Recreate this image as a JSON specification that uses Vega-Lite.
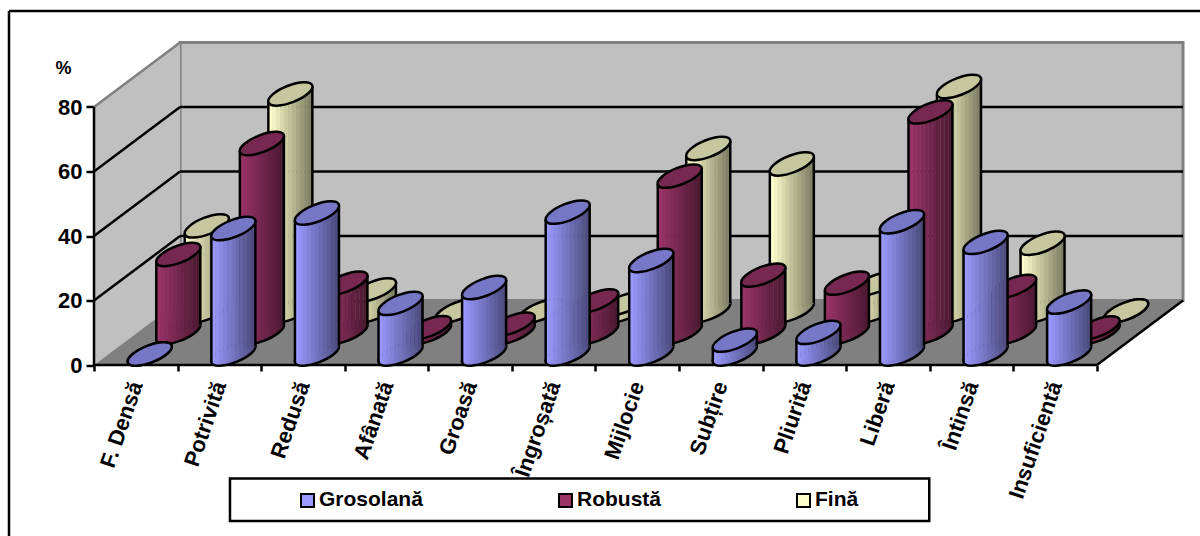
{
"$schema":"https://vega.github.io/schema/vega-lite/v6.json",
"width":1089,"height":322.5,
"autosize":{"type":"none"},
"padding":{"left":94,"top":42.5,"right":17,"bottom":171},
"background":"white",
"config":{"view":{"stroke":null},"font":"Liberation Sans"},
"datasets":{
"measures":[
{"trait":"F. Densă","pos":0.5,"series":"Grosolană","value":0},
{"trait":"Potrivită","pos":1.5,"series":"Grosolană","value":38.9},
{"trait":"Redusă","pos":2.5,"series":"Grosolană","value":43.7},
{"trait":"Afânată","pos":3.5,"series":"Grosolană","value":15.7},
{"trait":"Groasă","pos":4.5,"series":"Grosolană","value":20.6},
{"trait":"Îngroșată","pos":5.5,"series":"Grosolană","value":44},
{"trait":"Mijlocie","pos":6.5,"series":"Grosolană","value":29},
{"trait":"Subțire","pos":7.5,"series":"Grosolană","value":4.3},
{"trait":"Pliurită","pos":8.5,"series":"Grosolană","value":6.7},
{"trait":"Liberă","pos":9.5,"series":"Grosolană","value":41},
{"trait":"Întinsă","pos":10.5,"series":"Grosolană","value":34.6},
{"trait":"Insuficientă","pos":11.5,"series":"Grosolană","value":16.1},
{"trait":"F. Densă","pos":0.5,"series":"Robustă","value":24.2},
{"trait":"Potrivită","pos":1.5,"series":"Robustă","value":58.6},
{"trait":"Redusă","pos":2.5,"series":"Robustă","value":15.3},
{"trait":"Afânată","pos":3.5,"series":"Robustă","value":1.5},
{"trait":"Groasă","pos":4.5,"series":"Robustă","value":2.6},
{"trait":"Îngroșată","pos":5.5,"series":"Robustă","value":9.8},
{"trait":"Mijlocie","pos":6.5,"series":"Robustă","value":48.5},
{"trait":"Subțire","pos":7.5,"series":"Robustă","value":17.8},
{"trait":"Pliurită","pos":8.5,"series":"Robustă","value":15.3},
{"trait":"Liberă","pos":9.5,"series":"Robustă","value":68.4},
{"trait":"Întinsă","pos":10.5,"series":"Robustă","value":14.3},
{"trait":"Insuficientă","pos":11.5,"series":"Robustă","value":1.4},
{"trait":"F. Densă","pos":0.5,"series":"Fină","value":26.4},
{"trait":"Potrivită","pos":1.5,"series":"Fină","value":67.3},
{"trait":"Redusă","pos":2.5,"series":"Fină","value":6.5},
{"trait":"Afânată","pos":3.5,"series":"Fină","value":0},
{"trait":"Groasă","pos":4.5,"series":"Fină","value":0},
{"trait":"Îngroșată","pos":5.5,"series":"Fină","value":2.3},
{"trait":"Mijlocie","pos":6.5,"series":"Fină","value":50.4},
{"trait":"Subțire","pos":7.5,"series":"Fină","value":45.6},
{"trait":"Pliurită","pos":8.5,"series":"Fină","value":8.4},
{"trait":"Liberă","pos":9.5,"series":"Fină","value":69.6},
{"trait":"Întinsă","pos":10.5,"series":"Fină","value":21},
{"trait":"Insuficientă","pos":11.5,"series":"Fină","value":0}
],
"backWall":[{"pos":1.03,"pos2":13.03,"value":20,"value2":100}],
"leftWall":[{"pos":0,"value":0,"value2":80},{"pos":1.03,"value":20,"value2":100}],
"floor":[{"pos":0,"value":0,"value2":0},{"pos":1.03,"value":0,"value2":20},{"pos":12,"value":0,"value2":20},{"pos":13.03,"value":20,"value2":20}],
"greyEdges":[{"pos":0,"pos2":1.03,"value":80,"value2":100}],
"blackLines":[
{"pos":1.03,"pos2":13.03,"value":40,"value2":40},
{"pos":1.03,"pos2":13.03,"value":60,"value2":60},
{"pos":1.03,"pos2":13.03,"value":80,"value2":80},
{"pos":0,"pos2":1.03,"value":20,"value2":40},
{"pos":0,"pos2":1.03,"value":40,"value2":60},
{"pos":0,"pos2":1.03,"value":60,"value2":80},
{"pos":0,"pos2":0,"value":0,"value2":80},
{"pos":0,"pos2":12,"value":0,"value2":0},
{"pos":12,"pos2":13.03,"value":0,"value2":20}
],
"frame":[
{"pos":-1.017,"pos2":13.4,"value":109.8,"value2":109.8},
{"pos":-1.017,"pos2":-1.017,"value":109.8,"value2":-53}
],
"legendBox":[{"pos":1.627,"pos2":9.994,"value":-35.2,"value2":-48.4}]
},
"encoding":{
"x":{"field":"pos","type":"quantitative","scale":{"domain":[0,13.03],"nice":false,"zero":false},"axis":null},
"y":{"field":"value","type":"quantitative","scale":{"domain":[0,100],"nice":false,"zero":false},"axis":null}
},
"resolve":{"axis":{"x":"independent","y":"independent"}},
"layer":[
{"data":{"name":"backWall"},"mark":{"type":"rect","fill":"#c0c0c0","stroke":"#808080","strokeWidth":3},
 "encoding":{"x2":{"field":"pos2"},"y2":{"field":"value2"}}},
{"data":{"name":"leftWall"},"mark":{"type":"area","orient":"vertical","fill":"#c0c0c0","opacity":1},
 "encoding":{"y2":{"field":"value2"}}},
{"data":{"name":"floor"},"mark":{"type":"area","orient":"vertical","fill":"#808080","opacity":1},
 "encoding":{"y2":{"field":"value2"}}},
{"data":{"name":"greyEdges"},"mark":{"type":"rule","stroke":"#808080","strokeWidth":2.5},
 "encoding":{"x2":{"field":"pos2"},"y2":{"field":"value2"}}},
{"data":{"name":"blackLines"},"mark":{"type":"rule","stroke":"#000000","strokeWidth":2.5},
 "encoding":{
  "x":{"field":"pos","type":"quantitative","axis":{"orient":"bottom","values":[0,1,2,3,4,5,6,7,8,9,10,11,12],"labels":false,"domain":false,"grid":false,"title":null,"tickSize":6,"tickWidth":2.5,"tickColor":"#000000"}},
  "y":{"field":"value","type":"quantitative","axis":{"orient":"left","values":[0,20,40,60,80],"domain":false,"grid":false,"tickSize":8,"tickWidth":2.5,"tickColor":"#000000","labelFont":"Liberation Sans","labelFontWeight":"bold","labelFontSize":22,"labelColor":"#000000","labelPadding":4,"title":"%","titleAngle":0,"titleX":-31,"titleY":25.5,"titleAlign":"center","titleBaseline":"middle","titleFont":"Liberation Sans","titleFontWeight":"bold","titleFontSize":18,"titleColor":"#000000"}},
  "x2":{"field":"pos2"},"y2":{"field":"value2"}}},
{"data":{"name":"frame"},"mark":{"type":"rule","stroke":"#000000","strokeWidth":2.5},
 "encoding":{"x2":{"field":"pos2"},"y2":{"field":"value2"}}},
{"data":{"name":"measures"},"transform":[{"filter":"datum.series==='Fină'"}],"layer":[
 {"mark":{"type":"point","shape":"M-21.9,8.6A23.5,8.5,-21.5,1,1,21.9,-8.6A23.5,8.5,-21.5,1,1,-21.9,8.6Z","size":4,"filled":true,"opacity":1,"fill":{"gradient":"linear","x1":0,"y1":0,"x2":1,"y2":0,"stops":[{"offset":0,"color":"#ffffcc"},{"offset":1,"color":"#808066"}]},"stroke":"#000000","strokeWidth":2.5,"xOffset":71,"yOffset":-54},
  "encoding":{"y":{"datum":0}}},
 {"encoding":{"y2":{"datum":0}},"layer":[
  {"mark":{"type":"rule","strokeWidth":4.4,"stroke":"#ffffcc","xOffset":51,"yOffset":-47,"y2Offset":-47}},
  {"mark":{"type":"rule","strokeWidth":4.4,"stroke":"#f2f2c2","xOffset":55,"yOffset":-48.4,"y2Offset":-48.4}},
  {"mark":{"type":"rule","strokeWidth":4.4,"stroke":"#e6e6b8","xOffset":59,"yOffset":-49.8,"y2Offset":-49.8}},
  {"mark":{"type":"rule","strokeWidth":4.4,"stroke":"#d9d9ad","xOffset":63,"yOffset":-51.2,"y2Offset":-51.2}},
  {"mark":{"type":"rule","strokeWidth":4.4,"stroke":"#cccca3","xOffset":67,"yOffset":-52.6,"y2Offset":-52.6}},
  {"mark":{"type":"rule","strokeWidth":4.4,"stroke":"#bfbf99","xOffset":71,"yOffset":-54,"y2Offset":-54}},
  {"mark":{"type":"rule","strokeWidth":4.4,"stroke":"#b3b38f","xOffset":75,"yOffset":-55.4,"y2Offset":-55.4}},
  {"mark":{"type":"rule","strokeWidth":4.4,"stroke":"#a6a685","xOffset":79,"yOffset":-56.8,"y2Offset":-56.8}},
  {"mark":{"type":"rule","strokeWidth":4.4,"stroke":"#99997a","xOffset":83,"yOffset":-58.2,"y2Offset":-58.2}},
  {"mark":{"type":"rule","strokeWidth":4.4,"stroke":"#8c8c70","xOffset":87,"yOffset":-59.6,"y2Offset":-59.6}},
  {"mark":{"type":"rule","strokeWidth":4.4,"stroke":"#808066","xOffset":91,"yOffset":-61,"y2Offset":-61}},
  {"mark":{"type":"rule","strokeWidth":2.5,"stroke":"#000000","xOffset":49,"yOffset":-46.3,"y2Offset":-46.3}},
  {"mark":{"type":"rule","strokeWidth":2.5,"stroke":"#000000","xOffset":93,"yOffset":-61.7,"y2Offset":-61.7}}
 ]},
 {"mark":{"type":"point","shape":"M-21.9,8.6A23.5,8.5,-21.5,1,1,21.9,-8.6A23.5,8.5,-21.5,1,1,-21.9,8.6Z","size":4,"filled":true,"opacity":1,"fill":"#c7c79f","stroke":"#000000","strokeWidth":2.5,"xOffset":71,"yOffset":-54}}
]},
{"data":{"name":"measures"},"transform":[{"filter":"datum.series==='Robustă'"}],"layer":[
 {"mark":{"type":"point","shape":"M-21.9,8.6A23.5,8.5,-21.5,1,1,21.9,-8.6A23.5,8.5,-21.5,1,1,-21.9,8.6Z","size":4,"filled":true,"opacity":1,"fill":{"gradient":"linear","x1":0,"y1":0,"x2":1,"y2":0,"stops":[{"offset":0,"color":"#993366"},{"offset":1,"color":"#4d1a33"}]},"stroke":"#000000","strokeWidth":2.5,"xOffset":42.5,"yOffset":-32.5},
  "encoding":{"y":{"datum":0}}},
 {"encoding":{"y2":{"datum":0}},"layer":[
  {"mark":{"type":"rule","strokeWidth":4.4,"stroke":"#993366","xOffset":22.5,"yOffset":-25.5,"y2Offset":-25.5}},
  {"mark":{"type":"rule","strokeWidth":4.4,"stroke":"#913061","xOffset":26.5,"yOffset":-26.9,"y2Offset":-26.9}},
  {"mark":{"type":"rule","strokeWidth":4.4,"stroke":"#8a2e5c","xOffset":30.5,"yOffset":-28.3,"y2Offset":-28.3}},
  {"mark":{"type":"rule","strokeWidth":4.4,"stroke":"#822b57","xOffset":34.5,"yOffset":-29.7,"y2Offset":-29.7}},
  {"mark":{"type":"rule","strokeWidth":4.4,"stroke":"#7a2952","xOffset":38.5,"yOffset":-31.1,"y2Offset":-31.1}},
  {"mark":{"type":"rule","strokeWidth":4.4,"stroke":"#73264d","xOffset":42.5,"yOffset":-32.5,"y2Offset":-32.5}},
  {"mark":{"type":"rule","strokeWidth":4.4,"stroke":"#6b2447","xOffset":46.5,"yOffset":-33.9,"y2Offset":-33.9}},
  {"mark":{"type":"rule","strokeWidth":4.4,"stroke":"#632142","xOffset":50.5,"yOffset":-35.3,"y2Offset":-35.3}},
  {"mark":{"type":"rule","strokeWidth":4.4,"stroke":"#5c1f3d","xOffset":54.5,"yOffset":-36.7,"y2Offset":-36.7}},
  {"mark":{"type":"rule","strokeWidth":4.4,"stroke":"#541c38","xOffset":58.5,"yOffset":-38.1,"y2Offset":-38.1}},
  {"mark":{"type":"rule","strokeWidth":4.4,"stroke":"#4d1a33","xOffset":62.5,"yOffset":-39.5,"y2Offset":-39.5}},
  {"mark":{"type":"rule","strokeWidth":2.5,"stroke":"#000000","xOffset":20.5,"yOffset":-24.8,"y2Offset":-24.8}},
  {"mark":{"type":"rule","strokeWidth":2.5,"stroke":"#000000","xOffset":64.5,"yOffset":-40.2,"y2Offset":-40.2}}
 ]},
 {"mark":{"type":"point","shape":"M-21.9,8.6A23.5,8.5,-21.5,1,1,21.9,-8.6A23.5,8.5,-21.5,1,1,-21.9,8.6Z","size":4,"filled":true,"opacity":1,"fill":"#772850","stroke":"#000000","strokeWidth":2.5,"xOffset":42.5,"yOffset":-32.5}}
]},
{"data":{"name":"measures"},"transform":[{"filter":"datum.series==='Grosolană'"}],"layer":[
 {"mark":{"type":"point","shape":"M-21.9,8.6A23.5,8.5,-21.5,1,1,21.9,-8.6A23.5,8.5,-21.5,1,1,-21.9,8.6Z","size":4,"filled":true,"opacity":1,"fill":{"gradient":"linear","x1":0,"y1":0,"x2":1,"y2":0,"stops":[{"offset":0,"color":"#9999ff"},{"offset":1,"color":"#4d4d80"}]},"stroke":"#000000","strokeWidth":2.5,"xOffset":14,"yOffset":-11},
  "encoding":{"y":{"datum":0}}},
 {"encoding":{"y2":{"datum":0}},"layer":[
  {"mark":{"type":"rule","strokeWidth":4.4,"stroke":"#9999ff","xOffset":-6,"yOffset":-4,"y2Offset":-4}},
  {"mark":{"type":"rule","strokeWidth":4.4,"stroke":"#9191f2","xOffset":-2,"yOffset":-5.4,"y2Offset":-5.4}},
  {"mark":{"type":"rule","strokeWidth":4.4,"stroke":"#8a8ae6","xOffset":2,"yOffset":-6.8,"y2Offset":-6.8}},
  {"mark":{"type":"rule","strokeWidth":4.4,"stroke":"#8282d9","xOffset":6,"yOffset":-8.2,"y2Offset":-8.2}},
  {"mark":{"type":"rule","strokeWidth":4.4,"stroke":"#7a7acc","xOffset":10,"yOffset":-9.6,"y2Offset":-9.6}},
  {"mark":{"type":"rule","strokeWidth":4.4,"stroke":"#7373bf","xOffset":14,"yOffset":-11,"y2Offset":-11}},
  {"mark":{"type":"rule","strokeWidth":4.4,"stroke":"#6b6bb3","xOffset":18,"yOffset":-12.4,"y2Offset":-12.4}},
  {"mark":{"type":"rule","strokeWidth":4.4,"stroke":"#6363a6","xOffset":22,"yOffset":-13.8,"y2Offset":-13.8}},
  {"mark":{"type":"rule","strokeWidth":4.4,"stroke":"#5c5c99","xOffset":26,"yOffset":-15.2,"y2Offset":-15.2}},
  {"mark":{"type":"rule","strokeWidth":4.4,"stroke":"#54548c","xOffset":30,"yOffset":-16.6,"y2Offset":-16.6}},
  {"mark":{"type":"rule","strokeWidth":4.4,"stroke":"#4d4d80","xOffset":34,"yOffset":-18,"y2Offset":-18}},
  {"mark":{"type":"rule","strokeWidth":2.5,"stroke":"#000000","xOffset":-8,"yOffset":-3.3,"y2Offset":-3.3}},
  {"mark":{"type":"rule","strokeWidth":2.5,"stroke":"#000000","xOffset":36,"yOffset":-18.7,"y2Offset":-18.7}}
 ]},
 {"mark":{"type":"point","shape":"M-21.9,8.6A23.5,8.5,-21.5,1,1,21.9,-8.6A23.5,8.5,-21.5,1,1,-21.9,8.6Z","size":4,"filled":true,"opacity":1,"fill":"#7777c7","stroke":"#000000","strokeWidth":2.5,"xOffset":14,"yOffset":-11}}
]},
{"data":{"name":"legendBox"},"mark":{"type":"rect","fill":"#ffffff","stroke":"#000000","strokeWidth":2.5},
 "encoding":{"x2":{"field":"pos2"},"y2":{"field":"value2"}}},
{"data":{"name":"measures"},"mark":{"type":"point","shape":"square","size":0,"filled":true,"opacity":1},
 "encoding":{
  "x":{"field":"pos","type":"quantitative","axis":{"orient":"bottom","values":[0.5,1.5,2.5,3.5,4.5,5.5,6.5,7.5,8.5,9.5,10.5,11.5],"labelExpr":"['F. Densă','Potrivită','Redusă','Afânată','Groasă','Îngroșată','Mijlocie','Subțire','Pliurită','Liberă','Întinsă','Insuficientă'][floor(datum.value)]","ticks":false,"domain":false,"grid":false,"title":null,"labelAngle":-71,"labelAlign":"right","labelBaseline":"middle","labelPadding":17,"labelFont":"Liberation Sans","labelFontWeight":"bold","labelFontSize":22,"labelColor":"#000000","labelOverlap":false,"labelLimit":200}},
  "color":{"field":"series","type":"nominal","sort":["Grosolană","Robustă","Fină"],"scale":{"domain":["Grosolană","Robustă","Fină"],"range":["#9999ff","#993366","#ffffcc"]},
   "legend":{"orient":"none","legendX":203,"legendY":447,"direction":"horizontal","columns":3,"title":null,"padding":0,"gridAlign":"each","columnPadding":131,"symbolType":"square","symbolSize":170,"symbolOpacity":1,"symbolFillColor":null,"symbolStrokeColor":"#000000","symbolStrokeWidth":2,"labelOffset":1,"labelFont":"Liberation Sans","labelFontWeight":"bold","labelFontSize":21,"labelColor":"#000000"}}
 }}
]
}
